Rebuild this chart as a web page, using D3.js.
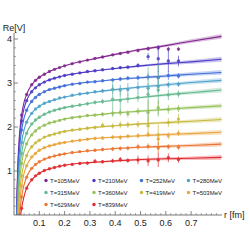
<!DOCTYPE html>
<html><head><meta charset="utf-8">
<script src="https://cdn.jsdelivr.net/npm/d3@7"></script>
<style>html,body{margin:0;padding:0;background:#fff;} svg{display:block;font-family:"Liberation Sans",Arial,sans-serif;}</style>
</head><body><svg id="c" width="250" height="250"></svg>
<script>
const temps = ["T=105MeV","T=210MeV","T=252MeV","T=280MeV","T=315MeV","T=360MeV","T=419MeV","T=503MeV","T=629MeV","T=839MeV"];
const colors = ["#82288e","#4b3bc6","#3f6fd9","#4ba2cc","#65b98f","#93c158","#c6b83b","#e9a43a","#ec7431","#e0292d"];

// fit curves sampled at rCurve
const rCurve = [0.008,0.01,0.012,0.015,0.02,0.025,0.03,0.04,0.05,0.06,0.08,0.1,0.13,0.16,0.2,0.25,0.3,0.4,0.5,0.6,0.7,0.82];
const bandHalf = [0.01,0.01,0.01,0.01,0.01,0.01,0.01,0.01,0.008,0.006,0.005,0.005,0.005,0.006,0.007,0.01,0.013,0.018,0.025,0.033,0.042,0.055];
const curve105 = [-0.86,-0.01,0.56,1.13,1.70,2.04,2.27,2.57,2.74,2.87,3.03,3.13,3.23,3.31,3.39,3.47,3.53,3.65,3.76,3.85,3.95,4.06];
const curve210 = [-0.99,-0.14,0.43,1.00,1.57,1.91,2.14,2.43,2.60,2.72,2.87,2.96,3.05,3.11,3.17,3.22,3.26,3.33,3.39,3.44,3.48,3.54];
const curve252 = [-1.20,-0.35,0.22,0.79,1.36,1.70,1.93,2.21,2.38,2.50,2.65,2.74,2.83,2.88,2.94,2.99,3.02,3.08,3.12,3.16,3.20,3.24];
const curve280 = [-1.48,-0.63,-0.06,0.51,1.08,1.42,1.65,1.94,2.11,2.23,2.38,2.47,2.56,2.62,2.68,2.74,2.78,2.85,2.91,2.96,3.01,3.06];
const curve315 = [-1.73,-0.88,-0.31,0.26,0.83,1.17,1.40,1.69,1.86,1.98,2.13,2.22,2.32,2.38,2.44,2.49,2.54,2.61,2.67,2.73,2.78,2.84];
const curve360 = [-1.96,-1.11,-0.54,0.03,0.60,0.94,1.17,1.45,1.62,1.74,1.89,1.98,2.07,2.12,2.18,2.23,2.26,2.32,2.36,2.40,2.44,2.48];
const curve419 = [-2.23,-1.38,-0.81,-0.24,0.33,0.67,0.89,1.18,1.35,1.47,1.61,1.70,1.79,1.84,1.90,1.94,1.98,2.03,2.07,2.10,2.13,2.17];
const curve503 = [-2.46,-1.61,-1.04,-0.48,0.09,0.43,0.66,0.95,1.12,1.23,1.38,1.47,1.55,1.60,1.65,1.69,1.73,1.77,1.80,1.83,1.85,1.88];
const curve629 = [-2.71,-1.86,-1.30,-0.73,-0.16,0.18,0.41,0.69,0.86,0.98,1.12,1.21,1.29,1.34,1.39,1.43,1.46,1.51,1.54,1.56,1.58,1.61];
const curve839 = [-2.97,-2.12,-1.55,-0.99,-0.42,-0.08,0.15,0.43,0.61,0.72,0.86,0.95,1.03,1.08,1.13,1.17,1.19,1.23,1.26,1.28,1.29,1.31];

// lattice data points
const rData = [0.03,0.05,0.07,0.085,0.1,0.12,0.14,0.16,0.18,0.2,0.23,0.26,0.29,0.32,0.35,0.39,0.42,0.45,0.49,0.53,0.57,0.61,0.65];
const data105 = [2.27,2.74,2.96,3.06,3.13,3.20,3.26,3.31,3.35,3.39,3.44,3.48,3.52,3.56,3.59,3.64,3.67,3.70,3.74,3.78,3.80,3.77,3.77];
const err105  = [0.01,0.01,0.01,0.01,0.01,0.01,0.01,0.01,0.01,0.01,0.015,0.015,0.02,0.02,0.02,0.03,0.03,0.03,0.04,0.05,0.06,0.05,0.04];
const data210 = [2.14,2.60,2.80,2.89,2.96,3.02,3.07,3.11,3.14,3.17,3.20,3.23,3.26,3.28,3.30,3.33,3.35,3.36,3.40,3.60,3.55,3.50,3.50];
const err210  = [0.01,0.01,0.01,0.01,0.01,0.01,0.01,0.01,0.015,0.015,0.02,0.02,0.02,0.03,0.03,0.03,0.04,0.04,0.05,0.08,0.30,0.25,0.12];
const data252 = [1.93,2.38,2.58,2.67,2.74,2.80,2.85,2.88,2.91,2.94,2.97,2.99,3.02,3.03,3.05,3.07,3.09,3.11,3.12,3.14,3.12,3.17,3.16];
const err252  = [0.01,0.01,0.01,0.01,0.01,0.01,0.01,0.015,0.015,0.02,0.02,0.02,0.03,0.03,0.03,0.04,0.05,0.05,0.06,0.08,0.15,0.10,0.06];
const data280 = [1.65,2.11,2.31,2.41,2.47,2.54,2.58,2.62,2.66,2.68,2.72,2.75,2.77,2.80,2.82,2.86,2.84,2.85,2.90,2.88,2.92,2.96,2.97];
const err280  = [0.01,0.01,0.01,0.01,0.01,0.01,0.015,0.015,0.02,0.02,0.02,0.03,0.03,0.04,0.05,0.10,0.12,0.15,0.14,0.12,0.14,0.08,0.06];
const data315 = [1.40,1.86,2.07,2.16,2.22,2.29,2.34,2.38,2.41,2.44,2.47,2.50,2.53,2.56,2.58,2.63,2.60,2.64,2.67,2.74,2.84,2.73,2.75];
const err315  = [0.01,0.01,0.01,0.01,0.01,0.015,0.015,0.02,0.02,0.02,0.03,0.03,0.04,0.05,0.06,0.40,0.30,0.10,0.10,0.62,0.60,0.12,0.08];
const data360 = [1.17,1.62,1.82,1.91,1.98,2.04,2.09,2.12,2.15,2.18,2.21,2.23,2.26,2.27,2.29,2.31,2.33,2.30,2.36,2.33,2.44,2.40,2.42];
const err360  = [0.01,0.01,0.01,0.01,0.01,0.01,0.015,0.015,0.02,0.02,0.03,0.03,0.03,0.04,0.05,0.06,0.08,0.08,0.08,0.28,0.17,0.10,0.08];
const data419 = [0.89,1.35,1.55,1.64,1.70,1.77,1.81,1.84,1.87,1.90,1.93,1.95,1.97,1.99,2.04,2.02,2.05,2.05,2.06,2.03,1.82,2.10,2.18];
const err419  = [0.01,0.01,0.01,0.01,0.01,0.015,0.015,0.02,0.02,0.02,0.03,0.03,0.04,0.04,0.06,0.06,0.08,0.07,0.08,0.17,0.23,0.10,0.12];
const data503 = [0.66,1.12,1.32,1.40,1.47,1.53,1.57,1.60,1.63,1.65,1.68,1.70,1.72,1.74,1.75,1.77,1.76,1.79,1.80,1.83,1.73,1.80,1.86];
const err503  = [0.01,0.01,0.01,0.01,0.01,0.015,0.015,0.02,0.02,0.02,0.03,0.03,0.03,0.04,0.04,0.05,0.06,0.05,0.06,0.07,0.14,0.08,0.07];
const data629 = [0.41,0.86,1.06,1.15,1.21,1.27,1.31,1.34,1.37,1.39,1.42,1.44,1.46,1.47,1.49,1.50,1.51,1.52,1.55,1.56,1.52,1.55,1.54];
const err629  = [0.01,0.01,0.01,0.01,0.01,0.015,0.015,0.02,0.02,0.02,0.03,0.03,0.03,0.04,0.04,0.05,0.05,0.05,0.07,0.07,0.12,0.06,0.06];
const data839 = [0.15,0.61,0.80,0.89,0.95,1.01,1.05,1.08,1.11,1.13,1.15,1.17,1.18,1.22,1.21,1.23,1.26,1.24,1.25,1.23,1.25,1.30,1.26];
const err839  = [0.01,0.01,0.01,0.01,0.01,0.015,0.015,0.02,0.02,0.03,0.03,0.03,0.04,0.05,0.04,0.05,0.06,0.05,0.10,0.12,0.16,0.10,0.07];

const xMajor = [0.1,0.2,0.3,0.4,0.5,0.6,0.7];
const yMajor = [1,2,3,4];

const curves = [curve105,curve210,curve252,curve280,curve315,curve360,curve419,curve503,curve629,curve839];
const datas = [data105,data210,data252,data280,data315,data360,data419,data503,data629,data839];
const errs = [err105,err210,err252,err280,err315,err360,err419,err503,err629,err839];

const svg = d3.select('#c');
const x = d3.scaleLinear().domain([0,0.82]).range([14,221.5]);
const y = d3.scaleLinear().domain([0,4]).range([215,39]);

svg.append('defs').append('clipPath').attr('id','pc').append('rect')
  .attr('x',x(0)).attr('y',y(4.2)).attr('width',x(0.82)-x(0)+1).attr('height',y(0)-y(4.2));

const plot = svg.append('g').attr('clip-path','url(#pc)');
const area = d3.area().x(d=>x(d.r)).y0(d=>y(d.v-d.w)).y1(d=>y(d.v+d.w)).curve(d3.curveMonotoneX);
const line = d3.line().x(d=>x(d.r)).y(d=>y(d.v)).curve(d3.curveMonotoneX);

curves.forEach((c,i)=>{
  const pts = rCurve.map((r,j)=>({r:r,v:c[j],w:bandHalf[j]}));
  plot.append('path').attr('d',area(pts)).attr('fill',colors[i]).attr('fill-opacity',0.3).attr('stroke','none');
  plot.append('path').attr('d',line(pts)).attr('fill','none').attr('stroke',colors[i]).attr('stroke-width',1.1);
});

datas.forEach((dv,i)=>{
  const g = plot.append('g');
  const pts = rData.map((r,j)=>({r:r,v:dv[j],e:errs[i][j]}));
  g.selectAll('line.eb').data(pts).enter().append('line')
    .attr('x1',d=>x(d.r)).attr('x2',d=>x(d.r))
    .attr('y1',d=>y(d.v-d.e)).attr('y2',d=>y(d.v+d.e))
    .attr('stroke',colors[i]).attr('stroke-width',0.9).attr('stroke-opacity',0.75);
  g.selectAll('circle').data(pts).enter().append('circle')
    .attr('cx',d=>x(d.r)).attr('cy',d=>y(d.v)).attr('r',1.7)
    .attr('fill',colors[i]).attr('fill-opacity',0.85);
});

// axes
const axCol = '#555', txtCol = '#222';
const xMinor = d3.range(1,41).map(k=>k*0.02).filter(v=>!xMajor.some(m=>Math.abs(m-v)<1e-6));
const yMinor = d3.range(1,21).map(k=>k*0.2).filter(v=>!yMajor.some(m=>Math.abs(m-v)<1e-6));

svg.append('line').attr('x1',x(0)).attr('x2',222).attr('y1',y(0)).attr('y2',y(0)).attr('stroke',axCol).attr('stroke-width',0.8);
svg.append('line').attr('x1',x(0)).attr('x2',x(0)).attr('y1',y(0)).attr('y2',33).attr('stroke',axCol).attr('stroke-width',0.8);

svg.append('g').selectAll('line').data(xMajor).enter().append('line')
  .attr('x1',d=>x(d)).attr('x2',d=>x(d)).attr('y1',y(0)).attr('y2',y(0)-4).attr('stroke',axCol).attr('stroke-width',0.7);
svg.append('g').selectAll('line').data(xMinor).enter().append('line')
  .attr('x1',d=>x(d)).attr('x2',d=>x(d)).attr('y1',y(0)).attr('y2',y(0)-2).attr('stroke',axCol).attr('stroke-width',0.5);
svg.append('g').selectAll('line').data(yMajor).enter().append('line')
  .attr('x1',x(0)).attr('x2',x(0)+4).attr('y1',d=>y(d)).attr('y2',d=>y(d)).attr('stroke',axCol).attr('stroke-width',0.7);
svg.append('g').selectAll('line').data(yMinor).enter().append('line')
  .attr('x1',x(0)).attr('x2',x(0)+2).attr('y1',d=>y(d)).attr('y2',d=>y(d)).attr('stroke',axCol).attr('stroke-width',0.5);

svg.append('g').selectAll('text').data(xMajor).enter().append('text')
  .attr('x',d=>x(d)).attr('y',y(0)+11).attr('text-anchor','middle')
  .attr('font-size',9).attr('fill',txtCol).text(d=>d3.format('.1f')(d));
svg.append('g').selectAll('text').data(yMajor).enter().append('text')
  .attr('x',x(0)-2).attr('y',d=>y(d)+3.2).attr('text-anchor','end')
  .attr('font-size',9).attr('fill',txtCol).text(d=>d);

svg.append('text').attr('x',224).attr('y',y(0)+3.2).attr('font-size',9).attr('fill',txtCol).text('r [fm]');
svg.append('text').attr('x',x(0)).attr('y',31).attr('text-anchor','middle').attr('font-size',9).attr('fill',txtCol).text('Re[V]');

// legend
const legX = [46,94,141.5,188.5];
const legY = [180.5,192.5,204.5];
const lg = svg.append('g');
temps.forEach((t,i)=>{
  const cx = legX[i%4], cy = legY[Math.floor(i/4)];
  lg.append('circle').attr('cx',cx).attr('cy',cy).attr('r',1.7).attr('fill',colors[i]);
  lg.append('text').attr('x',cx+4).attr('y',cy+2.1).attr('font-size',6).attr('fill',txtCol).text(t);
});
</script></body></html>
